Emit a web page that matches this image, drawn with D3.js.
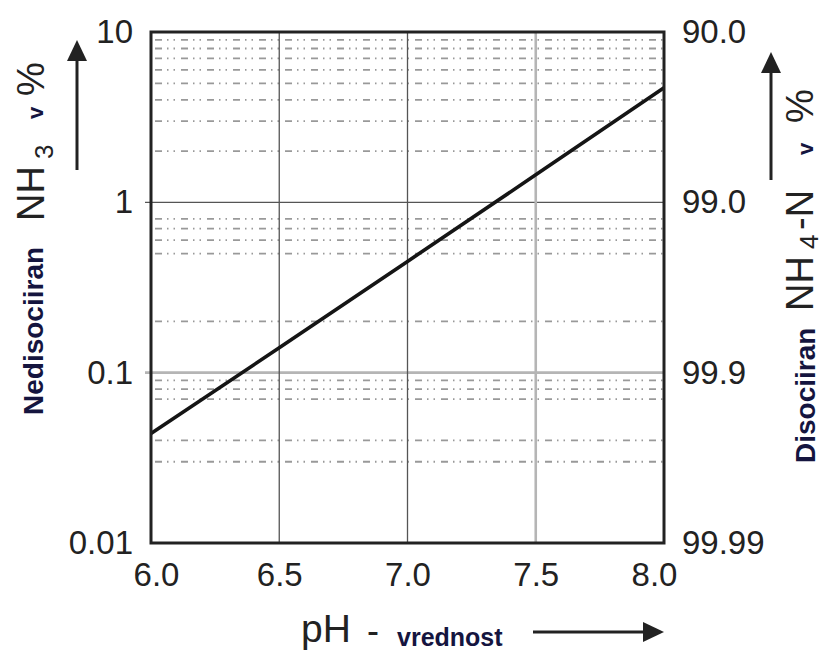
<!DOCTYPE html>
<html>
<head>
<meta charset="utf-8">
<script src="https://cdn.jsdelivr.net/npm/d3@7"></script>
<style>
	body { margin: 0; background: #fff; }
	svg { display: block; }
</style>
</head>
<body>
<div class="graphic"></div>
<script>
const phValues = [6.0, 6.5, 7.0, 7.5, 8.0]
const nh3Percent = [0.044, 0.14, 0.45, 1.45, 4.7]

const xTicks = [6.0, 6.5, 7.0, 7.5, 8.0]
const xTickLabels = ['6.0', '6.5', '7.0', '7.5', '8.0']
const yTicks = [10, 1, 0.1, 0.01]
const yTickLabels = ['10', '1', '0.1', '0.01']
const yRightLabels = ['90.0', '99.0', '99.9', '99.99']

// dash-dot helper lines, only the ones that are printed in the original
const minorGridY = [2, 3, 4, 5, 6, 7, 8, 9, 0.2, 0.5, 0.6, 0.7, 0.8, 0.03, 0.04, 0.07, 0.08, 0.09]
const majorGridX = [6.5, 7.0, 7.5]
const majorGridY = [1, 0.1]

const width = 824
const height = 653
const plot = { left: 151, right: 664, top: 32, bottom: 543 }
const font = "'Liberation Sans', Arial, Helvetica, sans-serif"
const navy = '#15153f'

const svg = d3.select('.graphic').append('svg')
	.attr('width', width)
	.attr('height', height)
	.style('font-family', font)

const scale = {
	x: d3.scaleLinear().domain([6, 8]).range([plot.left, plot.right]),
	y: d3.scaleLog().domain([0.01, 10]).range([plot.bottom, plot.top]),
}

// grid
const grid = svg.append('g').attr('class', 'grid')

grid.selectAll('.minor')
	.data(minorGridY)
	.enter().append('line')
		.attr('class', 'minor')
		.attr('x1', plot.left + 4)
		.attr('x2', plot.right)
		.attr('y1', d => scale.y(d))
		.attr('y2', d => scale.y(d))
		.attr('stroke', '#999')
		.attr('stroke-width', 1.8)
		.attr('stroke-dasharray', '7,5,1.5,5,1.5,6')

// the 1 and 6.5/7.0 lines are thin and dark, the 0.1 and 7.5 lines pale and wide
const pale = d => d === 0.1 || d === 7.5

grid.selectAll('.major-y')
	.data(majorGridY)
	.enter().append('line')
		.attr('class', 'major-y')
		.attr('x1', plot.left - 6)
		.attr('x2', plot.right)
		.attr('y1', d => scale.y(d))
		.attr('y2', d => scale.y(d))
		.attr('stroke', d => pale(d) ? '#b5b5b5' : '#555')
		.attr('stroke-width', d => pale(d) ? 2.6 : 1.3)

grid.selectAll('.major-x')
	.data(majorGridX)
	.enter().append('line')
		.attr('class', 'major-x')
		.attr('x1', d => scale.x(d))
		.attr('x2', d => scale.x(d))
		.attr('y1', plot.top)
		.attr('y2', plot.bottom)
		.attr('stroke', d => pale(d) ? '#b5b5b5' : '#555')
		.attr('stroke-width', d => pale(d) ? 2.6 : 1.3)

// curve
const line = d3.line()
	.x(d => scale.x(d[0]))
	.y(d => scale.y(d[1]))

svg.append('path')
	.datum(phValues.map((p, i) => [p, nh3Percent[i]]))
	.attr('d', line)
	.attr('fill', 'none')
	.attr('stroke', '#151515')
	.attr('stroke-width', 3.6)

// frame
svg.append('rect')
	.attr('x', plot.left)
	.attr('y', plot.top)
	.attr('width', plot.right - plot.left)
	.attr('height', plot.bottom - plot.top)
	.attr('fill', 'none')
	.attr('stroke', '#222')
	.attr('stroke-width', 3)

// axes (labels only)
function styleAxis(g) {
	g.select('.domain').remove()
	g.selectAll('.tick line').remove()
	g.selectAll('text')
		.attr('font-family', font)
		.attr('font-size', 33)
		.attr('fill', '#222')
}

svg.append('g')
	.attr('transform', `translate(${plot.left},0)`)
	.call(d3.axisLeft(scale.y)
		.tickValues(yTicks)
		.tickFormat((d, i) => yTickLabels[i])
		.tickSize(0)
		.tickPadding(18))
	.call(styleAxis)

svg.append('g')
	.attr('transform', `translate(${plot.right},0)`)
	.call(d3.axisRight(scale.y)
		.tickValues(yTicks)
		.tickFormat((d, i) => yRightLabels[i])
		.tickSize(0)
		.tickPadding(18))
	.call(styleAxis)

svg.append('g')
	.attr('transform', `translate(0,${plot.bottom})`)
	.call(d3.axisBottom(scale.x)
		.tickValues(xTicks)
		.tickFormat((d, i) => xTickLabels[i])
		.tickSize(0)
		.tickPadding(20))
	.call(styleAxis)
	.call(g => g.selectAll('text')
		.attr('dx', (d, i) => i === 0 ? 5 : i === xTicks.length - 1 ? -10 : 0))

// titles
function vtext(x, y, str, size, opts = {}) {
	return svg.append('text')
		.attr('transform', `translate(${x},${y}) rotate(-90)`)
		.attr('font-size', size)
		.attr('font-weight', opts.bold ? 'bold' : null)
		.attr('fill', opts.color || '#222')
		.text(str)
}

vtext(43, 415, 'Nedisociiran', 28, { bold: true, color: navy })
vtext(44, 221, 'NH', 38)
vtext(53, 159, '3', 26)
vtext(43, 119, 'v', 22, { bold: true, color: navy })
vtext(44, 96, '%', 38)

vtext(815, 463, 'Disociiran', 28, { bold: true, color: navy })
vtext(813, 311, 'NH', 38)
vtext(818, 249, '4', 26)
vtext(813, 230, '-N', 38)
vtext(813, 155, 'v', 22, { bold: true, color: navy })
vtext(813, 123, '%', 38)

svg.append('text')
	.attr('x', 301)
	.attr('y', 642)
	.attr('font-size', 39)
	.attr('fill', '#222')
	.text('pH')

svg.append('text')
	.attr('x', 367)
	.attr('y', 643)
	.attr('font-size', 36)
	.attr('fill', '#222')
	.text('-')

svg.append('text')
	.attr('x', 397)
	.attr('y', 646)
	.attr('font-size', 25)
	.attr('font-weight', 'bold')
	.attr('fill', navy)
	.text('vrednost')

// arrows
function arrow(x1, y1, x2, y2) {
	const angle = Math.atan2(y2 - y1, x2 - x1)
	const len = 21
	const half = 10
	const bx = x2 - len * Math.cos(angle)
	const by = y2 - len * Math.sin(angle)
	svg.append('line')
		.attr('x1', x1).attr('y1', y1)
		.attr('x2', bx).attr('y2', by)
		.attr('stroke', '#222')
		.attr('stroke-width', 3)
	svg.append('path')
		.attr('d', d3.line()([
			[x2, y2],
			[bx - half * Math.sin(angle), by + half * Math.cos(angle)],
			[bx + half * Math.sin(angle), by - half * Math.cos(angle)],
		]) + 'Z')
		.attr('fill', '#222')
}

arrow(77, 170, 77, 40)
arrow(771, 180, 771, 52)
arrow(533, 632, 664, 632)
</script>
</body>
</html>
